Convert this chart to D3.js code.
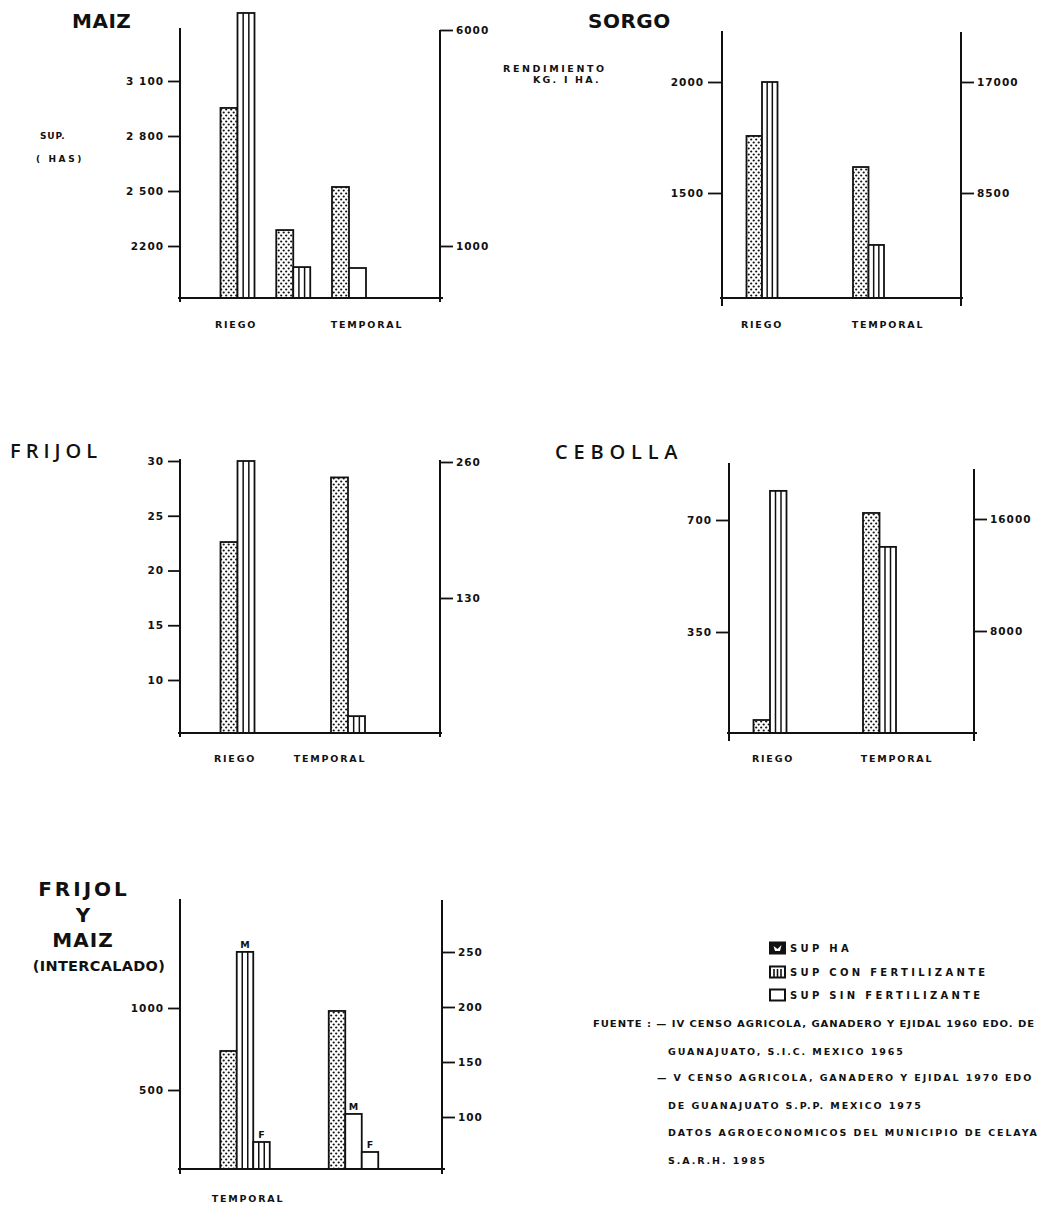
<!DOCTYPE html>
<html><head><meta charset="utf-8">
<script src="https://cdn.jsdelivr.net/npm/d3@7"></script>
<style>
body{margin:0;background:#fff}
text{font-family:"DejaVu Sans",sans-serif;fill:#111}
</style>
</head><body>
<svg id="c" width="1040" height="1207"></svg>
<script>
// ---------------- DATA ----------------
const seriesNames = ["SUP HA", "SUP CON FERTILIZANTE", "SUP SIN FERTILIZANTE"];

// MAIZ
const maizGroups = ["RIEGO", "RIEGO B", "TEMPORAL"];
const maizSupHa = [2953, 2287, 2522];
const maizConFert = [3471, 2085, null];
const maizSinFert = [null, null, 2080];
const maizLeftTicks = [2200, 2500, 2800, 3100];
const maizLeftTickLabels = ["2200", "2 500", "2 800", "3 100"];
const maizRightTicks = [1000, 6000];
const maizRightTickLabels = ["1000", "6000"];
const maizCategoryLabels = ["RIEGO", "TEMPORAL"];

// SORGO
const sorgoGroups = ["RIEGO", "TEMPORAL"];
const sorgoSupHa = [1757, 1617];
const sorgoConFert = [2000, 1266];
const sorgoSinFert = [null, null];
const sorgoLeftTicks = [1500, 2000];
const sorgoLeftTickLabels = ["1500", "2000"];
const sorgoRightTicks = [8500, 17000];
const sorgoRightTickLabels = ["8500", "17000"];
const sorgoCategoryLabels = ["RIEGO", "TEMPORAL"];

// FRIJOL
const frijolGroups = ["RIEGO", "TEMPORAL"];
const frijolSupHa = [22.6, 28.5];
const frijolConFert = [30, 6.7];
const frijolSinFert = [null, null];
const frijolLeftTicks = [10, 15, 20, 25, 30];
const frijolLeftTickLabels = ["10", "15", "20", "25", "30"];
const frijolRightTicks = [130, 260];
const frijolRightTickLabels = ["130", "260"];
const frijolCategoryLabels = ["RIEGO", "TEMPORAL"];

// CEBOLLA
const cebollaGroups = ["RIEGO", "TEMPORAL"];
const cebollaSupHa = [75, 722];
const cebollaConFert = [791, 616];
const cebollaSinFert = [null, null];
const cebollaLeftTicks = [350, 700];
const cebollaLeftTickLabels = ["350", "700"];
const cebollaRightTicks = [8000, 16000];
const cebollaRightTickLabels = ["8000", "16000"];
const cebollaCategoryLabels = ["RIEGO", "TEMPORAL"];

// FRIJOL Y MAIZ (INTERCALADO)
const interGroups = ["TEMPORAL", "TEMPORAL B"];
const interSupHa = [738, 982];
const interConFertMaiz = [1342, null];
const interConFertFrijol = [183, null];
const interSinFertMaiz = [null, 354];
const interSinFertFrijol = [null, 122];
const interLeftTicks = [500, 1000];
const interLeftTickLabels = ["500", "1000"];
const interRightTicks = [100, 150, 200, 250];
const interRightTickLabels = ["100", "150", "200", "250"];
const interCategoryLabels = ["TEMPORAL"];

const legendLabels = ["SUP HA", "SUP CON FERTILIZANTE", "SUP SIN FERTILIZANTE"];
const sourceLines = [
  "FUENTE : — IV CENSO AGRICOLA, GANADERO Y EJIDAL  1960 EDO. DE",
  "GUANAJUATO, S.I.C. MEXICO 1965",
  "— V CENSO AGRICOLA, GANADERO Y EJIDAL 1970 EDO",
  "DE GUANAJUATO S.P.P. MEXICO 1975",
  "DATOS AGROECONOMICOS DEL MUNICIPIO DE CELAYA",
  "S.A.R.H.  1985"
];

// ---------------- DRAWING ----------------
const svg = d3.select("#c");
const defs = svg.append("defs");
const pat = defs.append("pattern").attr("id", "dots")
  .attr("patternUnits", "userSpaceOnUse").attr("width", 5).attr("height", 6);
pat.append("rect").attr("width", 5).attr("height", 6).attr("fill", "#fff");
pat.append("circle").attr("cx", 1.2).attr("cy", 1.5).attr("r", 1.1).attr("fill", "#111");
pat.append("circle").attr("cx", 3.7).attr("cy", 4.5).attr("r", 1.1).attr("fill", "#111");

const INK = "#111";

function drawPanel(cfg) {
  const g = svg.append("g");
  const yL = d3.scaleLinear().domain(cfg.leftAnchor.v).range(cfg.leftAnchor.y);
  const yR = d3.scaleLinear().domain(cfg.rightAnchor.v).range(cfg.rightAnchor.y);
  const xG = d3.scalePoint().domain(cfg.groups).range(cfg.groupX);
  const xLab = d3.scalePoint().domain(cfg.catLabels).range(cfg.labelX);

  // bars
  const bars = [];
  cfg.groups.forEach((grp, gi) => {
    const present = cfg.series.filter(s => s.values[gi] != null);
    const n = present.length;
    present.forEach((s, k) => {
      const x = xG(grp) - n * cfg.barW / 2 + k * cfg.barW;
      bars.push({x, w: cfg.barW, v: s.values[gi], type: s.type, mark: s.mark});
    });
  });
  const bg = g.append("g");
  bars.forEach(b => {
    const yTop = yL(b.v);
    const h = cfg.base - yTop;
    bg.append("rect").attr("x", b.x).attr("y", yTop).attr("width", b.w).attr("height", h)
      .attr("fill", b.type === "dots" ? "url(#dots)" : "#fff")
      .attr("stroke", INK).attr("stroke-width", 1.8);
    if (b.type === "stripes") {
      [1/3, 2/3].forEach(f => {
        bg.append("line").attr("x1", b.x + b.w * f).attr("x2", b.x + b.w * f)
          .attr("y1", yTop).attr("y2", cfg.base)
          .attr("stroke", INK).attr("stroke-width", 1.5);
      });
    }
    if (b.mark) {
      bg.append("text").attr("x", b.x + b.w / 2).attr("y", yTop - 7)
        .attr("text-anchor", "middle").attr("dy", "0.35em")
        .style("font-size", "9.5px").style("font-weight", "bold").text(b.mark);
    }
  });

  // axis lines
  g.append("line").attr("x1", cfg.axL).attr("x2", cfg.axL).attr("y1", cfg.axLTop).attr("y2", cfg.axBot)
    .attr("stroke", INK).attr("stroke-width", 2);
  g.append("line").attr("x1", cfg.axR).attr("x2", cfg.axR).attr("y1", cfg.axRTop).attr("y2", cfg.axBot)
    .attr("stroke", INK).attr("stroke-width", 2);
  g.append("line").attr("x1", cfg.baseX[0]).attr("x2", cfg.baseX[1]).attr("y1", cfg.base).attr("y2", cfg.base)
    .attr("stroke", INK).attr("stroke-width", 2);

  // left axis
  const la = g.append("g").attr("transform", `translate(${cfg.axL},0)`)
    .call(d3.axisLeft(yL).tickValues(cfg.leftTicks).tickSize(cfg.tickL)
      .tickPadding(4).tickFormat((d, i) => cfg.leftTickLabels[i]));
  la.select(".domain").remove();
  la.selectAll(".tick line").attr("stroke", INK).attr("stroke-width", 1.8);
  la.selectAll(".tick text").attr("fill", INK).style("font-family", "DejaVu Sans")
    .style("font-size", "10.5px").style("font-weight", "bold").style("letter-spacing", "1px");

  // right axis
  const ra = g.append("g").attr("transform", `translate(${cfg.axR},0)`)
    .call(d3.axisRight(yR).tickValues(cfg.rightTicks).tickSize(cfg.tickR)
      .tickPadding(3).tickFormat((d, i) => cfg.rightTickLabels[i]));
  ra.select(".domain").remove();
  ra.selectAll(".tick line").attr("stroke", INK).attr("stroke-width", 1.8);
  ra.selectAll(".tick text").attr("fill", INK).style("font-family", "DejaVu Sans")
    .style("font-size", "10.5px").style("font-weight", "bold").style("letter-spacing", "1px");

  // category labels
  g.selectAll(".cat").data(cfg.catLabels).enter().append("text")
    .attr("x", d => xLab(d)).attr("y", cfg.labelY).attr("dy", "0.35em")
    .attr("text-anchor", "middle").style("font-size", "9.5px").style("font-weight", "bold")
    .style("letter-spacing", "1.8px").text(d => d);
  return g;
}

function seriesOf(supHa, con, sin) {
  return [
    {values: supHa, type: "dots"},
    {values: con, type: "stripes"},
    {values: sin, type: "plain"}
  ];
}

drawPanel({
  groups: maizGroups, series: seriesOf(maizSupHa, maizConFert, maizSinFert),
  leftTicks: maizLeftTicks, leftTickLabels: maizLeftTickLabels,
  rightTicks: maizRightTicks, rightTickLabels: maizRightTickLabels, catLabels: maizCategoryLabels,
  leftAnchor: {v: [2200, 3100], y: [246, 81]}, rightAnchor: {v: [1000, 6000], y: [246, 30]},
  axL: 180, axR: 440, axLTop: 28, axRTop: 30, axBot: 302, base: 298, baseX: [178, 443],
  groupX: [237.5, 349], labelX: [236, 367], labelY: 325, barW: 17, tickL: 12, tickR: 13
});
drawPanel({
  groups: sorgoGroups, series: seriesOf(sorgoSupHa, sorgoConFert, sorgoSinFert),
  leftTicks: sorgoLeftTicks, leftTickLabels: sorgoLeftTickLabels,
  rightTicks: sorgoRightTicks, rightTickLabels: sorgoRightTickLabels, catLabels: sorgoCategoryLabels,
  leftAnchor: {v: [1500, 2000], y: [193, 82]}, rightAnchor: {v: [8500, 17000], y: [193, 82]},
  axL: 722, axR: 961, axLTop: 31, axRTop: 32, axBot: 306, base: 298, baseX: [720, 963],
  groupX: [762, 868.5], labelX: [762, 888], labelY: 325, barW: 15.5, tickL: 14, tickR: 13
});
drawPanel({
  groups: frijolGroups, series: seriesOf(frijolSupHa, frijolConFert, frijolSinFert),
  leftTicks: frijolLeftTicks, leftTickLabels: frijolLeftTickLabels,
  rightTicks: frijolRightTicks, rightTickLabels: frijolRightTickLabels, catLabels: frijolCategoryLabels,
  leftAnchor: {v: [10, 30], y: [680, 461]}, rightAnchor: {v: [130, 260], y: [598, 462]},
  axL: 180, axR: 440, axLTop: 459, axRTop: 460, axBot: 737, base: 733, baseX: [178, 442],
  groupX: [237.5, 348], labelX: [235, 330], labelY: 759, barW: 17, tickL: 12, tickR: 13
});
drawPanel({
  groups: cebollaGroups, series: seriesOf(cebollaSupHa, cebollaConFert, cebollaSinFert),
  leftTicks: cebollaLeftTicks, leftTickLabels: cebollaLeftTickLabels,
  rightTicks: cebollaRightTicks, rightTickLabels: cebollaRightTickLabels, catLabels: cebollaCategoryLabels,
  leftAnchor: {v: [350, 700], y: [632, 520]}, rightAnchor: {v: [8000, 16000], y: [631, 519]},
  axL: 729, axR: 974, axLTop: 463, axRTop: 469, axBot: 741, base: 733, baseX: [727, 977],
  groupX: [770, 879.5], labelX: [773, 897], labelY: 759, barW: 16.5, tickL: 13, tickR: 13
});
const interSeries = [
  {values: interSupHa, type: "dots"},
  {values: interConFertMaiz, type: "stripes", mark: "M"},
  {values: interConFertFrijol, type: "stripes", mark: "F"},
  {values: interSinFertMaiz, type: "plain", mark: "M"},
  {values: interSinFertFrijol, type: "plain", mark: "F"}
];
drawPanel({
  groups: interGroups, series: interSeries,
  leftTicks: interLeftTicks, leftTickLabels: interLeftTickLabels,
  rightTicks: interRightTicks, rightTickLabels: interRightTickLabels, catLabels: interCategoryLabels,
  leftAnchor: {v: [500, 1000], y: [1090, 1008]}, rightAnchor: {v: [100, 250], y: [1117, 952]},
  axL: 180, axR: 442, axLTop: 899, axRTop: 900, axBot: 1174, base: 1169, baseX: [178, 445],
  groupX: [245, 353.5], labelX: [248, 248], labelY: 1199, barW: 16.5, tickL: 12, tickR: 13
});

// ---------------- TITLES & AXIS NAMES ----------------
function txt(x, y, s, size, weight, ls, anchor, family) {
  return svg.append("text").attr("x", x).attr("y", y).attr("dy", "0.35em")
    .attr("text-anchor", anchor || "start")
    .style("font-family", family || "DejaVu Sans")
    .style("font-size", size + "px").style("font-weight", weight)
    .style("letter-spacing", ls + "px").text(s);
}
txt(72, 21, "MAIZ", 20, "bold", 0.5);
txt(588, 21, "SORGO", 20, "bold", 0.5);
txt(10, 451, "FRIJOL", 20, "600", 5, "start", "Open Sans");
txt(555, 452, "CEBOLLA", 20, "600", 5.8, "start", "Open Sans");
txt(84, 889, "FRIJOL", 20, "bold", 3, "middle");
txt(83, 915, "Y", 20, "bold", 0, "middle");
txt(83, 940, "MAIZ", 20, "bold", 1, "middle");
txt(99, 966, "(INTERCALADO)", 14.5, "bold", 0.3, "middle");

txt(40, 136, "SUP.", 9, "bold", 0.8);
txt(36, 159, "( HAS)", 9, "bold", 2.6);
txt(503, 69, "RENDIMIENTO", 9.5, "bold", 2.6);
txt(533, 80, "KG. I HA.", 9.5, "bold", 2.2);

// ---------------- LEGEND ----------------
const legendTypes = ["dark", "stripes", "plain"];
const lg = svg.append("g");
legendLabels.forEach((lab, i) => {
  const cy = [948, 972, 995][i];
  const t = legendTypes[i];
  lg.append("rect").attr("x", 770).attr("y", cy - 5.5).attr("width", 15).attr("height", 11)
    .attr("fill", t === "dark" ? INK : "#fff").attr("stroke", INK).attr("stroke-width", 2);
  if (t === "dark") {
    lg.append("path").attr("d", `M${773.5},${cy - 2} L${777.5},${cy + 1} L${781.5},${cy - 3} L${780},${cy + 3} L${775},${cy + 3} Z`)
      .attr("fill", "#fff");
  }
  if (t === "stripes") {
    [774, 777.5, 781].forEach(x => lg.append("line").attr("x1", x).attr("x2", x)
      .attr("y1", cy - 3).attr("y2", cy + 5).attr("stroke", INK).attr("stroke-width", 1.6));
  }
  txt(790, cy, lab, 10, "bold", 3.3);
});

// ---------------- SOURCE ----------------
const srcX = [593, 668, 657, 668, 668, 668];
const srcY = [1024, 1052, 1078, 1106, 1133, 1161];
sourceLines.forEach((s, i) => {
  const t = txt(srcX[i], srcY[i], s, 9.5, "bold", i === 0 ? 0.9 : 1.9);
  if (i === 0) t.attr("textLength", 442).attr("lengthAdjust", "spacingAndGlyphs");
});
</script>
</body></html>
